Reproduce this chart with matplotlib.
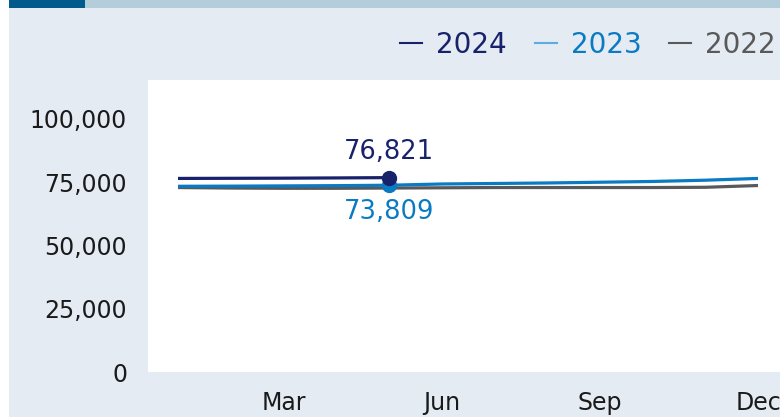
import matplotlib
matplotlib.use("Agg")
import matplotlib.pyplot as plt
import matplotlib.ticker as mticker
from matplotlib.patches import Rectangle
from matplotlib.lines import Line2D

# --- data ---
months = ["Jan", "Feb", "Mar", "Apr", "May", "Jun", "Jul", "Aug", "Sep", "Oct", "Nov", "Dec"]
vals_2024 = [76500, 76550, 76600, 76700, 76821]
vals_2023 = [73400, 73450, 73550, 73650, 73809, 74300, 74500, 74700, 75000, 75300, 75800, 76500]
vals_2022 = [72900, 72700, 72600, 72600, 72700, 72800, 72900, 72900, 72900, 72900, 73000, 73700]
tick_months = ["Mar", "Jun", "Sep", "Dec"]
y_ticks = [0, 25000, 50000, 75000, 100000]

NAVY = "#18226b"
BLUE = "#0a7bc2"
GREY = "#595959"
BG = "#e4ebf3"

W, H = 780, 417
fig = plt.figure(figsize=(W / 100, H / 100), dpi=100, facecolor="white")
plt.rcParams["font.family"] = ["DejaVu Sans"]

# panel background + top accent bar (drawn under the axes)
fig.patches.append(Rectangle((9 / W, 0), 1 - 9 / W, 1, transform=fig.transFigure,
                             facecolor=BG, edgecolor="none", zorder=-2))
fig.patches.append(Rectangle((85 / W, 1 - 8 / H), 1 - 85 / W, 8 / H, transform=fig.transFigure,
                             facecolor="#b4cddb", edgecolor="none", zorder=-1))
fig.patches.append(Rectangle((9 / W, 1 - 8 / H), 76 / W, 8 / H, transform=fig.transFigure,
                             facecolor="#005a8c", edgecolor="none", zorder=-1))

ax = fig.add_axes([148 / W, 45 / H, 1 - 148 / W, 292 / H])
ax.set_zorder(2)
ax.set_facecolor("white")
for s in ax.spines.values():
    s.set_visible(False)

x_all = list(range(1, len(months) + 1))
ax.plot(x_all, vals_2022, color=GREY, lw=2.3, solid_capstyle="butt", zorder=2)
ax.plot(x_all, vals_2023, color=BLUE, lw=2.3, solid_capstyle="butt", zorder=3)
ax.plot(x_all[:len(vals_2024)], vals_2024, color=NAVY, lw=2.3, solid_capstyle="butt", zorder=4)

# highlighted latest points
i = len(vals_2024) - 1
ax.plot(x_all[i], vals_2023[i], "o", color=BLUE, ms=10, zorder=5)
ax.plot(x_all[i], vals_2024[i], "o", color=NAVY, ms=10, zorder=6)
ax.annotate(f"{vals_2024[i]:,}", (x_all[i], vals_2024[i]), xytext=(0, 9),
            textcoords="offset points", ha="center", va="bottom", fontsize=18.5, color=NAVY)
ax.annotate(f"{vals_2023[i]:,}", (x_all[i], vals_2023[i]), xytext=(0, -10),
            textcoords="offset points", ha="center", va="top", fontsize=18.5, color=BLUE)

ax.set_xlim(0.431, 12.417)
ax.set_ylim(0, 115400)
ax.set_xticks([months.index(m) + 1 for m in tick_months])
ax.set_xticklabels(tick_months)
ax.set_yticks(y_ticks)
ax.yaxis.set_major_formatter(mticker.FuncFormatter(lambda v, _p: f"{int(v):,}"))
ax.tick_params(axis="both", length=0, labelsize=17, colors="#1a1a1a")
ax.tick_params(axis="y", pad=15)
ax.tick_params(axis="x", pad=14)

handles = [Line2D([], [], color=NAVY, lw=1.5),
           Line2D([], [], color="#5aaee0", lw=1.5),
           Line2D([], [], color=GREY, lw=1.5)]
fig.legend(handles, ["2024", "2023", "2022"], loc="center right",
           bbox_to_anchor=(776 / W, 1 - 45 / H), ncol=3, frameon=False, fontsize=20,
           handlelength=0.8, handletextpad=0.5, columnspacing=1.0, borderaxespad=0.0,
           borderpad=0.0, labelcolor=[NAVY, BLUE, GREY])

fig.savefig("out.png", dpi=100, facecolor=fig.get_facecolor())
